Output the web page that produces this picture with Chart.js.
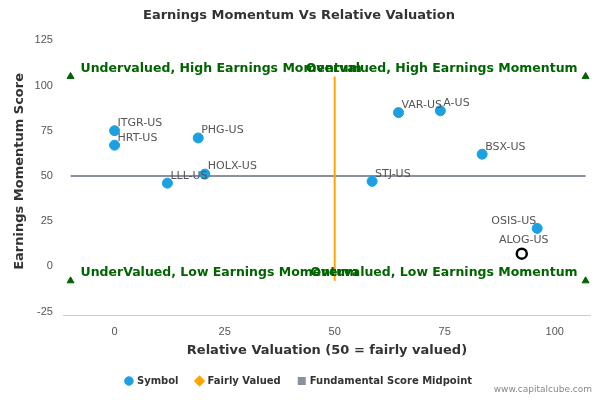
<!DOCTYPE html>
<html>
<head>
<meta charset="utf-8">
<script src="https://cdn.jsdelivr.net/npm/chart.js@4/dist/chart.umd.min.js"></script>
<style>
  body { margin: 0; background: #fff; font-family: "DejaVu Sans", sans-serif; }
  #wrap { position: relative; width: 600px; height: 400px; }
  #credit { position: absolute; right: 8px; bottom: 6px; font-size: 9px; color: #888; }
</style>
</head>
<body>
<div id="wrap"><canvas id="c" width="600" height="400"></canvas><div id="credit">www.capitalcube.com</div></div>
<script>
const symbols = ["ITGR-US", "HRT-US", "PHG-US", "HOLX-US", "LLL-US", "STJ-US", "VAR-US", "A-US", "BSX-US", "OSIS-US"];
const valuation = [0, 0, 19, 20.5, 12, 58.5, 64.5, 74, 83.5, 96];
const momentum = [75, 67, 71, 51, 46, 47, 85, 86, 62, 21];
const focusName = "ALOG-US";
const focusPoint = [92.5, 7];
const xTicks = [0, 25, 50, 75, 100];
const yTicks = [-25, 0, 25, 50, 75, 100, 125];
const fairLine = [[50, -8], [50, 105]];
const midLine = [[-10, 50], [107, 50]];
const corners = [[-10, 105], [107, 105], [-10, -8], [107, -8]];
const quadrantText = [
  ["Undervalued, High Earnings Momentum", -10, 105, "left"],
  ["Overvalued, High Earnings Momentum", 107, 105, "right"],
  ["UnderValued, Low Earnings Momentum", -10, -8, "left"],
  ["Overvalued, Low Earnings Momentum", 107, -8, "right"],
];

const labelsPlugin = {
  id: "labels",
  afterDatasetsDraw(chart) {
    const { ctx, scales: { x, y } } = chart;
    ctx.save();
    ctx.font = "11px 'DejaVu Sans'";
    ctx.fillStyle = "#555";
    ctx.textBaseline = "bottom";
    symbols.forEach((s, i) => {
      const px = x.getPixelForValue(valuation[i]), py = y.getPixelForValue(momentum[i]);
      if (s === "OSIS-US") { ctx.textAlign = "right"; ctx.fillText(s, px - 1, py - 2); }
      else { ctx.textAlign = "left"; ctx.fillText(s, px + 3, py - 2); }
    });
    ctx.textAlign = "center";
    ctx.fillText(focusName, x.getPixelForValue(focusPoint[0]) + 2, y.getPixelForValue(focusPoint[1]) - 8);
    ctx.font = "bold 12.5px 'DejaVu Sans'";
    ctx.fillStyle = "#006400";
    ctx.textBaseline = "middle";
    quadrantText.forEach(([t, vx, vy, al]) => {
      ctx.textAlign = al;
      const off = al === "left" ? 10 : -8;
      ctx.fillText(t, x.getPixelForValue(vx) + off, y.getPixelForValue(vy) - 8);
    });
    ctx.restore();
  }
};

new Chart(document.getElementById("c"), {
  type: "scatter",
  data: {
    datasets: [
      { label: "Symbol", data: valuation.map((v, i) => ({ x: v, y: momentum[i] })),
        backgroundColor: "#1ba1e2", borderColor: "#1ba1e2", pointRadius: 5, pointHoverRadius: 5 },
      { label: "Fairly Valued", type: "line", data: fairLine.map(p => ({ x: p[0], y: p[1] })),
        borderColor: "#ffa500", backgroundColor: "#ffa500", borderWidth: 2, pointRadius: 0,
        pointStyle: "rectRot" },
      { label: "Fundamental Score Midpoint", type: "line", data: midLine.map(p => ({ x: p[0], y: p[1] })),
        borderColor: "#8a90a0", backgroundColor: "#8a90a0", borderWidth: 2, pointRadius: 0,
        pointStyle: "rect" },
      { label: "focus", data: [{ x: focusPoint[0], y: focusPoint[1] }],
        backgroundColor: "#fff", borderColor: "#000", borderWidth: 2.5, pointRadius: 5 },
      { label: "corners", data: corners.map(p => ({ x: p[0], y: p[1] })),
        pointStyle: "triangle", backgroundColor: "#006400", borderColor: "#006400", pointRadius: 4 },
    ]
  },
  options: {
    responsive: false,
    animation: false,
    layout: { padding: { left: 8, right: 10, top: 0, bottom: 4 } },
    plugins: {
      title: { display: true, text: "Earnings Momentum Vs Relative Valuation", color: "#333",
        font: { size: 13, weight: "bold", family: "DejaVu Sans" }, padding: { top: 8, bottom: 4 } },
      legend: { position: "bottom",
        labels: { color: "#333", font: { size: 10, weight: "bold", family: "DejaVu Sans" }, usePointStyle: true,
          boxWidth: 6, boxHeight: 6, padding: 18,
          filter: item => item.datasetIndex < 3 },
      },
      tooltip: { enabled: false },
    },
    scales: {
      x: { type: "linear", min: -11.5, max: 108,
        afterBuildTicks: s => { s.ticks = xTicks.map(v => ({ value: v })); },
        grid: { display: false }, border: { color: "#ccc" },
        ticks: { color: "#555", font: { size: 11 }, padding: 2 },
        title: { display: true, text: "Relative Valuation (50 = fairly valued)", color: "#333",
          font: { size: 13, weight: "bold", family: "DejaVu Sans" }, padding: { top: 2, bottom: 0 } } },
      y: { min: -27, max: 132,
        afterBuildTicks: s => { s.ticks = yTicks.map(v => ({ value: v })); },
        grid: { display: false }, border: { display: false },
        ticks: { color: "#555", font: { size: 11 } },
        title: { display: true, text: "Earnings Momentum Score", color: "#333",
          font: { size: 13, weight: "bold", family: "DejaVu Sans" } } },
    }
  },
  plugins: [labelsPlugin]
});
</script>
</body>
</html>
